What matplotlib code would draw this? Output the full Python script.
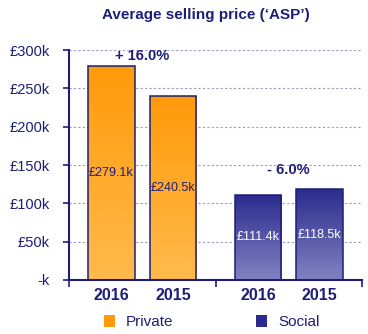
import numpy as np
import matplotlib.pyplot as plt
from matplotlib.colors import LinearSegmentedColormap
from matplotlib.patches import Patch

plt.rcParams['font.family'] = ['Liberation Sans', 'DejaVu Sans']

groups = ['Private', 'Social']
years = ['2016', '2015']
private_asp = [279.1, 240.5]
social_asp = [111.4, 118.5]
changes = ['+ 16.0%', '- 6.0%']
yticks = [0, 50, 100, 150, 200, 250, 300]
ytick_labels = ['-k', '£50k', '£100k', '£150k', '£200k', '£250k', '£300k']

navy = '#1e1e78'
top_colors = ['#ff9a0a', '#2b2b8e']
bottom_colors = ['#ffbb4d', '#8282c2']
label_colors = [navy, 'white']
width = 0.64
offsets = [-0.42, 0.42]
change_gap = [13, 25]

fig = plt.figure(figsize=(3.68, 3.34), dpi=100)
ax = fig.add_axes([0.1875, 0.1617, 0.7962, 0.6883])
ax.set_xlim(0, 4)
ax.set_ylim(0, 300)

for g, vals in enumerate([private_asp, social_asp]):
    cmap = LinearSegmentedColormap.from_list('g%d' % g, [bottom_colors[g], top_colors[g]])
    centre = 2 * g + 1
    for i, v in enumerate(vals):
        x = centre + offsets[i]
        bar = ax.bar(x, v, width=width, color='none', edgecolor=navy, linewidth=1.1, zorder=3)[0]
        grad = np.linspace(0, 1, 256).reshape(-1, 1)
        im = ax.imshow(grad, cmap=cmap, origin='lower', aspect='auto',
                       extent=[x - width / 2, x + width / 2, 0, v], zorder=2)
        im.set_clip_path(bar)
        ax.text(x, v / 2, '£%.1fk' % v, ha='center', va='center',
                color=label_colors[g], fontsize=9, zorder=4)
        ax.text(x, -0.035, years[i], transform=ax.get_xaxis_transform(),
                ha='center', va='top', fontsize=11.5, fontweight='bold', color=navy)
    ax.text(centre, max(vals) + change_gap[g], changes[g], ha='center', va='center',
            fontsize=10.5, fontweight='bold', color=navy, zorder=4)

ax.set_xlim(0, 4)
ax.set_ylim(0, 300)
ax.set_yticks(yticks)
ax.set_yticklabels(ytick_labels)
ax.set_xticks([0, 2, 4])
ax.set_xticklabels([])
ax.tick_params(axis='y', colors=navy, labelcolor=navy, labelsize=10.5, length=4,
               width=1.2, pad=10)
ax.tick_params(axis='x', colors=navy, length=5, width=1.2)
ax.grid(axis='y', color='#9a9ac8', linestyle=(0, (2, 2)), linewidth=0.8, zorder=1)
for s in ['top', 'right']:
    ax.spines[s].set_visible(False)
for s in ['left', 'bottom']:
    ax.spines[s].set_color(navy)
    ax.spines[s].set_linewidth(1.5)

fig.text(0.56, 0.955, 'Average selling price (‘ASP’)', ha='center', va='center',
         fontsize=11, fontweight='bold', color=navy)

handles = [Patch(facecolor=top_colors[0], edgecolor='none'),
           Patch(facecolor=top_colors[1], edgecolor='none')]
fig.legend(handles, groups, loc='center', bbox_to_anchor=(0.575, 0.035), ncol=2,
           frameon=False, fontsize=11, labelcolor=navy, handlelength=0.75,
           handleheight=0.75, columnspacing=5.4, handletextpad=0.7)

fig.savefig('out.png', dpi=100)
